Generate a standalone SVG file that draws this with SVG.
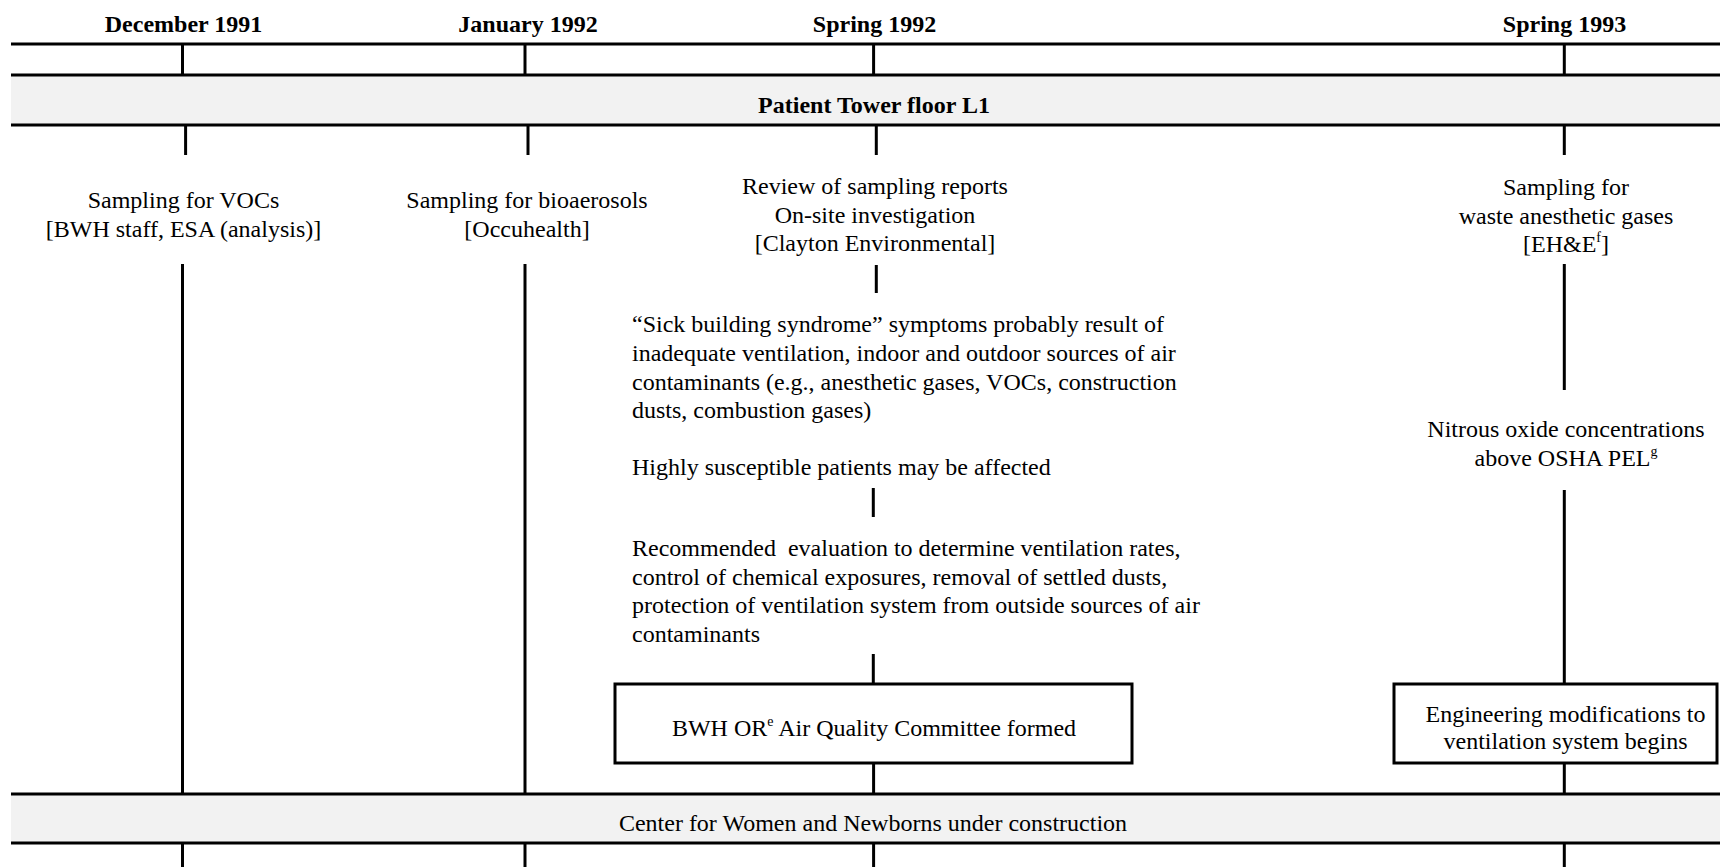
<svg xmlns="http://www.w3.org/2000/svg" width="1720" height="867" viewBox="0 0 1720 867">
  <style>
    .ln { stroke: #000; stroke-width: 3; fill: none; }
    .band { fill: #f2f2f2; }
    .box { fill: #fff; stroke: #000; stroke-width: 3; }
    text { font-family: "Liberation Serif", "Times New Roman", serif; font-size: 24px; fill: #000; }
    .b { font-weight: bold; }
    .c { text-anchor: middle; }
    .sup { font-size: 14px; }
  </style>

  <!-- timeline rails and shaded location bands -->
  <g id="rails">
    <rect class="band" x="11" y="75" width="1709" height="50"/>
    <rect class="band" x="11" y="794" width="1709" height="49"/>
    <line class="ln" x1="11" y1="44" x2="1720" y2="44"/>
    <line class="ln" x1="11" y1="75" x2="1720" y2="75"/>
    <line class="ln" x1="11" y1="125" x2="1720" y2="125"/>
    <line class="ln" x1="11" y1="794" x2="1720" y2="794"/>
    <line class="ln" x1="11" y1="843" x2="1720" y2="843"/>
  </g>

  <!-- date headings -->
  <g id="dates" class="b c">
    <text x="183.5" y="32">December 1991</text>
    <text x="528" y="32">January 1992</text>
    <text x="874.5" y="32">Spring 1992</text>
    <text x="1564.5" y="32">Spring 1993</text>
  </g>

  <g id="band-tower">
    <text class="b c" x="874" y="113">Patient Tower floor L1</text>
  </g>
  <g id="band-cwn">
    <text class="c" x="873" y="831">Center for Women and Newborns under construction</text>
  </g>

  <!-- connectors -->
  <g id="connectors">
    <!-- ticks between top rail and tower band -->
    <line class="ln" x1="182.5" y1="44" x2="182.5" y2="75"/>
    <line class="ln" x1="525" y1="44" x2="525" y2="75"/>
    <line class="ln" x1="873.6" y1="44" x2="873.6" y2="75"/>
    <line class="ln" x1="1564.3" y1="44" x2="1564.3" y2="75"/>
    <!-- ticks under tower band -->
    <line class="ln" x1="185.6" y1="125" x2="185.6" y2="155"/>
    <line class="ln" x1="528" y1="125" x2="528" y2="155"/>
    <line class="ln" x1="876.3" y1="125" x2="876.3" y2="155"/>
    <line class="ln" x1="1564.3" y1="125" x2="1564.3" y2="155"/>
    <!-- December 1991 / January 1992 columns -->
    <line class="ln" x1="182.5" y1="264" x2="182.5" y2="794"/>
    <line class="ln" x1="525" y1="264" x2="525" y2="794"/>
    <!-- Spring 1992 column -->
    <line class="ln" x1="876.3" y1="265" x2="876.3" y2="293"/>
    <line class="ln" x1="873.3" y1="488" x2="873.3" y2="517"/>
    <line class="ln" x1="873.3" y1="654" x2="873.3" y2="684"/>
    <line class="ln" x1="873.6" y1="763" x2="873.6" y2="794"/>
    <!-- Spring 1993 column -->
    <line class="ln" x1="1564.3" y1="264" x2="1564.3" y2="390"/>
    <line class="ln" x1="1564.3" y1="490" x2="1564.3" y2="684"/>
    <line class="ln" x1="1564.3" y1="763" x2="1564.3" y2="794"/>
    <!-- ticks under construction band -->
    <line class="ln" x1="182.5" y1="843" x2="182.5" y2="867"/>
    <line class="ln" x1="525" y1="843" x2="525" y2="867"/>
    <line class="ln" x1="873.6" y1="843" x2="873.6" y2="867"/>
    <line class="ln" x1="1564.3" y1="843" x2="1564.3" y2="867"/>
  </g>

  <g id="voc-sampling" class="c">
    <text x="183.5" y="208">Sampling for VOCs</text>
    <text x="183.5" y="236.5">[BWH staff, ESA (analysis)]</text>
  </g>

  <g id="bioaerosol-sampling" class="c">
    <text x="527" y="208">Sampling for bioaerosols</text>
    <text x="527" y="236.5">[Occuhealth]</text>
  </g>

  <g id="clayton-review" class="c">
    <text x="875" y="194">Review of sampling reports</text>
    <text x="875" y="223">On-site investigation</text>
    <text x="875" y="251">[Clayton Environmental]</text>
  </g>

  <g id="clayton-findings">
    <text x="632" y="332">“Sick building syndrome” symptoms probably result of</text>
    <text x="632" y="361">inadequate ventilation, indoor and outdoor sources of air</text>
    <text x="632" y="389.5">contaminants (e.g., anesthetic gases, VOCs, construction</text>
    <text x="632" y="418">dusts, combustion gases)</text>
    <text x="632" y="475">Highly susceptible patients may be affected</text>
  </g>

  <g id="clayton-recommendations">
    <text x="632" y="556" xml:space="preserve">Recommended  evaluation to determine ventilation rates,</text>
    <text x="632" y="584.5">control of chemical exposures, removal of settled dusts,</text>
    <text x="632" y="613">protection of ventilation system from outside sources of air</text>
    <text x="632" y="641.5">contaminants</text>
  </g>

  <g id="committee">
    <rect class="box" x="615" y="684" width="517" height="79"/>
    <text class="c" x="874" y="736">BWH OR<tspan class="sup" dy="-10">e</tspan><tspan dy="10"> Air Quality Committee formed</tspan></text>
  </g>

  <g id="gas-sampling" class="c">
    <text x="1566" y="195">Sampling for</text>
    <text x="1566" y="223.5">waste anesthetic gases</text>
    <text x="1566" y="252">[EH&amp;E<tspan class="sup" dy="-10">f</tspan><tspan dy="10">]</tspan></text>
  </g>

  <g id="nitrous-result" class="c">
    <text x="1566" y="437">Nitrous oxide concentrations</text>
    <text x="1566" y="466">above OSHA PEL<tspan class="sup" dy="-10">g</tspan></text>
  </g>

  <g id="engineering-mods">
    <rect class="box" x="1394" y="684" width="323" height="79"/>
    <text class="c" x="1565.5" y="721.5">Engineering modifications to</text>
    <text class="c" x="1565.5" y="749">ventilation system begins</text>
  </g>
</svg>
